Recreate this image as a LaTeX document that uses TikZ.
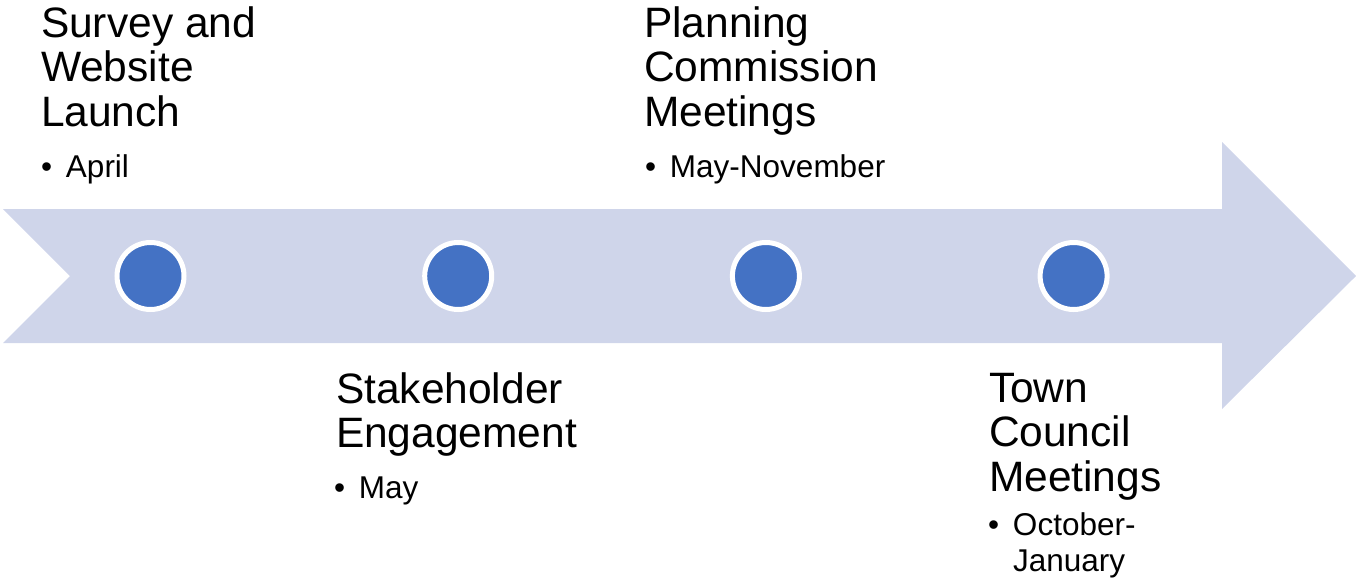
\documentclass[tikz,border=0pt]{standalone}
\usepackage{fontspec}
\setmainfont{Liberation Sans}
\definecolor{arrowfill}{HTML}{CFD5EA}
\definecolor{dotfill}{HTML}{4472C4}
\begin{document}
\begin{tikzpicture}[x=1pt,y=-1pt,
  titlelbl/.style={anchor=base west,inner sep=0pt,outer sep=0pt,
    font=\fontsize{42.5}{44.5}\selectfont},
  bulletlbl/.style={anchor=base west,inner sep=0pt,outer sep=0pt,
    font=\fontsize{31.5}{36.7}\selectfont},
  dot/.style={circle,minimum size=67pt,inner sep=0pt,fill=dotfill,draw=white,line width=5pt}]
\useasboundingbox (0,0) rectangle (1356,584);
% big arrow
\fill[arrowfill] (3,209) -- (1222,209) -- (1222,142) -- (1356,276) -- (1222,409)
  -- (1222,343) -- (3,343) -- (70,276) -- cycle;
% milestones
\node[dot] (d1) at (150.5,276) {};
\node[dot] (d2) at (458.2,276) {};
\node[dot] (d3) at (765.9,276) {};
\node[dot] (d4) at (1073.6,276) {};
% labels
\node[titlelbl] (t1) at (41,37) {\vtop{\hbox{Survey and}\hbox{Website}\hbox{Launch}}};
\node[bulletlbl] (b1) at (41,177) {\vtop{\hbox{\makebox[25pt][l]{•}April}}};
\node[titlelbl] (t2) at (336,403) {\vtop{\hbox{Stakeholder}\hbox{Engagement}}};
\node[bulletlbl] (b2) at (334,498) {\vtop{\hbox{\makebox[25pt][l]{•}May}}};
\node[titlelbl] (t3) at (644,37) {\vtop{\hbox{Planning}\hbox{Commission}\hbox{Meetings}}};
\node[bulletlbl] (b3) at (645,177) {\vtop{\hbox{\makebox[25pt][l]{•}May-November}}};
\node[titlelbl] (t4) at (989,402) {\vtop{\hbox{Town}\hbox{Council}\hbox{Meetings}}};
\node[bulletlbl] (b4) at (988,535) {\vtop{\hbox{\makebox[25pt][l]{•}October-}\hbox{\hspace*{25pt}January}}};
\end{tikzpicture}
\end{document}
